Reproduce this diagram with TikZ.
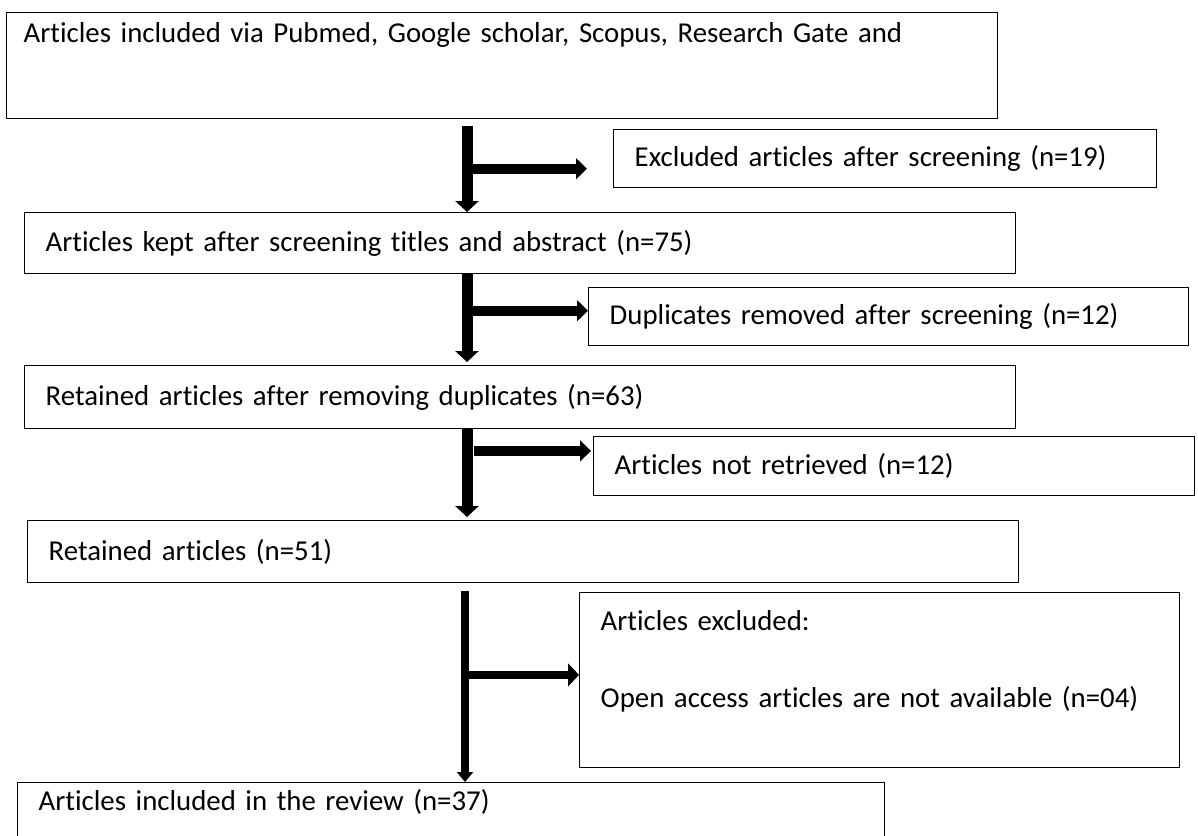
\documentclass[tikz,border=0pt]{standalone}
\usepackage{fontspec}
\setmainfont{Carlito}[Ligatures=NoCommon]
\usetikzlibrary{arrows.meta}

\tikzset{
  flowbox/.style={draw, line width=1.1pt, anchor=north west, inner xsep=15.75pt, inner ysep=0pt, align=left, font=\fontsize{21.6}{28.9}\selectfont},
  flowarrow/.style={line width=8.25pt, -{Triangle[width=17.25pt,length=8.25pt]}},
  sidearrow/.style={line width=7.5pt, -{Triangle[width=15.5pt,length=8.25pt]}},
}

\begin{document}
\begin{tikzpicture}[x=0.75pt,y=-0.75pt]
        \useasboundingbox (0,0) rectangle (1198,835);
        % Draw the main column of boxes
        \node[flowbox, inner xsep=12.75pt, text width=717.75pt, minimum height=79.5pt, text height=22pt, text depth=57.5pt] (found) at (6,12) {Articles included via Pubmed, Google scholar, Scopus, Research Gate and};
        \node[flowbox, text width=711.75pt, minimum height=45.75pt] (kept) at (24,212) {Articles kept after screening titles and abstract (n=75)};
        \node[flowbox, text width=711.75pt, minimum height=47.25pt] (dedup) at (24,365) {Retained articles after removing duplicates (n=63)};
        \node[flowbox, text width=711.75pt, minimum height=46.5pt] (retained) at (27,520) {Retained articles (n=51)};
        \node[flowbox, text width=618.75pt, minimum height=43.5pt, text height=21pt, text depth=22.5pt] (review) at (17,782) {Articles included in the review (n=37)};

        % Draw the side boxes
        \node[flowbox, text width=375.75pt, minimum height=43.5pt] (screenout) at (613,129) {Excluded articles after screening (n=19)};
        \node[flowbox, text width=418.5pt, minimum height=43.5pt] (dupout) at (588,287) {Duplicates removed after screening (n=12)};
        \node[flowbox, text width=419.25pt, minimum height=44.25pt] (notret) at (593,436) {Articles not retrieved (n=12)};
        \node[flowbox, text width=418.5pt, minimum height=131.25pt, text height=28.5pt, text depth=102.75pt] (noaccess) at (579,592) {Articles excluded:\\[28.9pt]Open access articles are not available (n=04)};

        % Spine of the down arrows and the branch points
        \coordinate (spine) at (467,0);
        \coordinate (e1) at ([yshift=-7.5pt]screenout.west);
        \coordinate (e2) at ([yshift=4.5pt]dupout.west);
        \coordinate (e3) at ([yshift=11.5pt]notret.west);
        \coordinate (e4) at ([yshift=4pt]noaccess.west);

        % Draw the down arrows
        \draw[flowarrow, shorten <=5.25pt] (spine |- found.south) -- (spine |- kept.north);
        \draw[flowarrow, shorten >=2.25pt] (spine |- kept.south) -- (spine |- dedup.north);
        \draw[flowarrow, shorten >=2.25pt] (spine |- dedup.south) -- (spine |- retained.north);
        \draw[line width=6pt, -{Triangle[width=12pt,length=7.5pt]}, shorten <=6pt] ([xshift=-1.5pt]spine |- retained.south) -- ([xshift=-1.5pt]spine |- review.north);

        % Draw the side arrows
        \draw[sidearrow, shorten >=19.5pt] (spine |- e1) -- (e1);
        \draw[sidearrow] (spine |- e2) -- (e2);
        \draw[sidearrow, shorten >=1.5pt] ([xshift=5pt]spine |- e3) -- (e3);
        \draw[line width=6pt, -{Triangle[width=17pt,length=8.25pt]}] (spine |- e4) -- (e4);
\end{tikzpicture}
\end{document}
